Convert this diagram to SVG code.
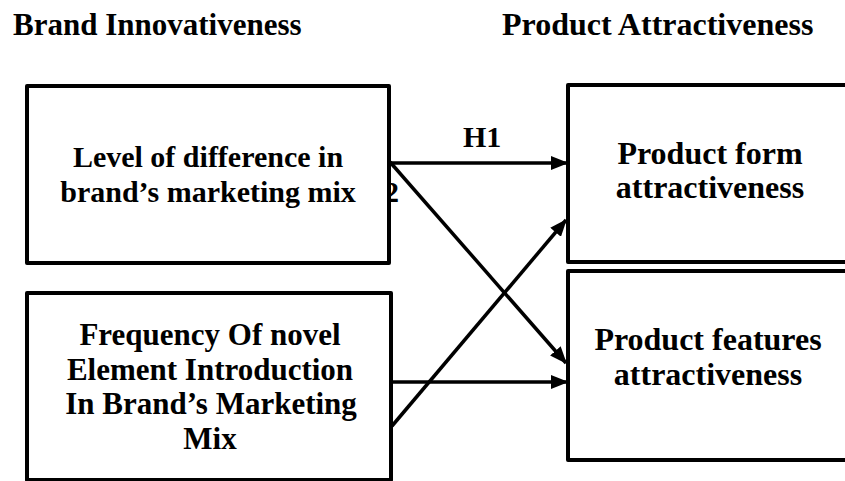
<svg xmlns="http://www.w3.org/2000/svg" width="845" height="481" viewBox="0 0 845 481">
<style>
.box{fill:#fff;stroke:#000;stroke-width:4;stroke-linejoin:round}
text{font-family:'Liberation Serif','Times New Roman',serif;font-weight:700;font-size:30px;fill:#000}
.title{font-size:32px}
.b2{font-size:31px}
.r{font-size:32px}
.c{text-anchor:middle}
.ln{stroke:#000;stroke-width:3.5;fill:none}
</style>
<defs>
<marker id="ah" markerWidth="5" markerHeight="4" refX="4.6" refY="2" orient="auto" markerUnits="strokeWidth">
<path d="M0,0 L5,2 L0,4 Z" fill="#000"/>
</marker>
</defs>
<rect width="845" height="481" fill="#fff"/>
<text class="title" x="13" y="35" style="font-size:31px">Brand Innovativeness</text>
<text class="title" x="502" y="35">Product Attractiveness</text>
<text x="384" y="202">2</text>
<g id="n1">
<rect class="box" x="27" y="86" width="362" height="177"/>
<text class="c" x="208" y="167">Level of difference in</text>
<text class="c" x="208" y="202">brand’s marketing mix</text>
</g>
<g id="n2">
<rect class="box" x="27" y="293" width="364" height="187"/>
<text class="c b2" x="210" y="345">Frequency Of novel</text>
<text class="c b2" x="210" y="380">Element Introduction</text>
<text class="c b2" x="211" y="414">In Brand’s Marketing</text>
<text class="c b2" x="210" y="449">Mix</text>
</g>
<g id="n3">
<rect class="box" x="568" y="85" width="290" height="177"/>
<text class="c r" x="710" y="164">Product form</text>
<text class="c r" x="710" y="198">attractiveness</text>
</g>
<g id="n4">
<rect class="box" x="568" y="271" width="290" height="189"/>
<text class="c r" x="708" y="350">Product features</text>
<text class="c r" x="708" y="385">attractiveness</text>
</g>
<g id="edges">
<line class="ln" x1="390" y1="163" x2="567" y2="163" marker-end="url(#ah)"/>
<line class="ln" x1="390" y1="162" x2="566" y2="363" marker-end="url(#ah)"/>
<line class="ln" x1="392" y1="426" x2="566" y2="220" marker-end="url(#ah)"/>
<line class="ln" x1="392" y1="382" x2="567" y2="382" marker-end="url(#ah)"/>
<text x="463" y="147">H1</text>
</g>
</svg>
